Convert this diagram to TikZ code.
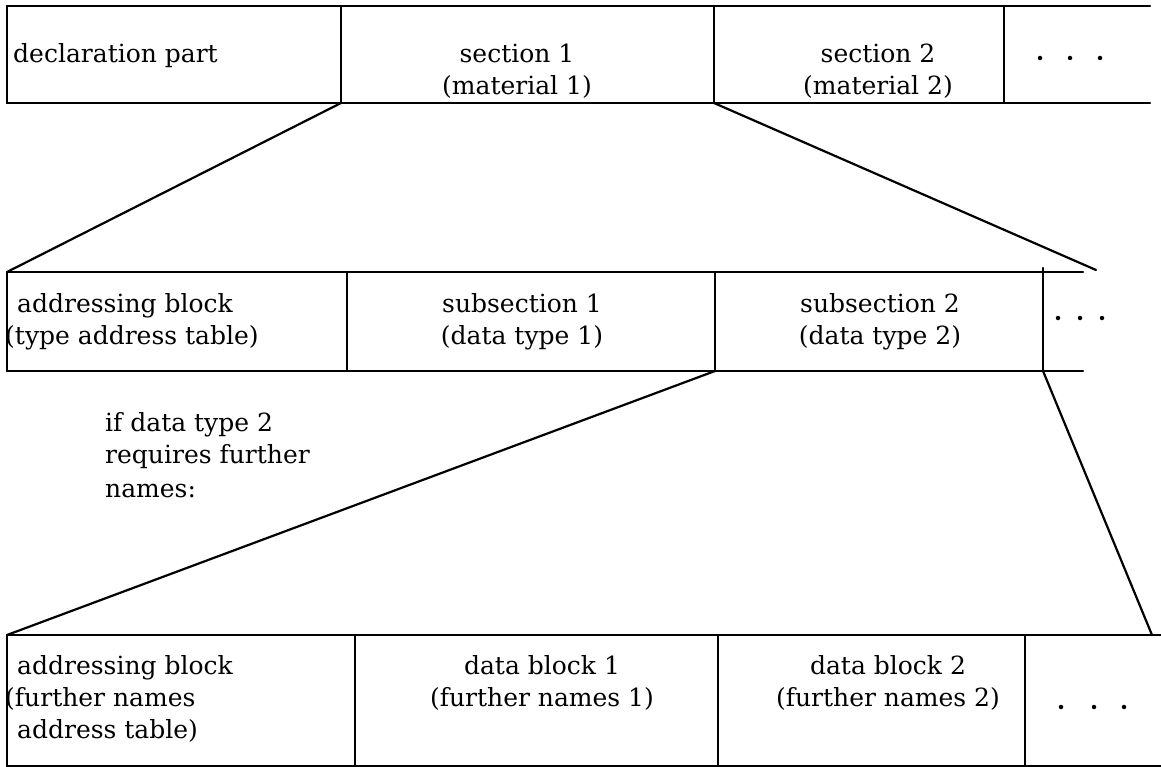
\documentclass[tikz,border=0pt]{standalone}
\usepackage{fontspec}
\setmainfont{DejaVu Serif}
\begin{document}
\begin{tikzpicture}[x=1pt,y=-1pt,
  rule/.style={line width=2.2pt, line cap=round},
  cell/.style={draw=none, rectangle, inner sep=0pt, outer sep=0pt},
  txt/.style={inner sep=0pt, font=\fontsize{25}{30}\selectfont},
  dotmark/.style={circle, fill, inner sep=0pt, minimum size=4.5pt}]
\useasboundingbox (0,0) rectangle (1161,767);

% ---------- top row ----------
\node[cell, minimum width=334pt, minimum height=97pt] (decl)  at (174,54.5) {};
\node[cell, minimum width=373pt, minimum height=97pt] (sec1)  at (527.5,54.5) {};
\node[cell, minimum width=290pt, minimum height=97pt] (sec2)  at (859,54.5) {};
\node[cell, minimum width=146pt, minimum height=97pt] (more1) at (1077,54.5) {};
\draw[rule] (more1.north east) -- (decl.north west) -- (decl.south west) -- (more1.south east);
\foreach \c in {sec1,sec2,more1} \draw[rule] (\c.north west) -- (\c.south west);

\node[txt, anchor=base west] (declT) at (13,63) {declaration part};
\node[txt, anchor=base] (s1a) at (517,63) {section 1};
\node[txt, anchor=base] (s1b) at (517,95) {(material 1)};
\node[txt, anchor=base] (s2a) at (878,63) {section 2};
\node[txt, anchor=base] (s2b) at (878,95) {(material 2)};
\node[dotmark] (t1) at (1040,58) {};
\node[dotmark] (t2) at (1070,58) {};
\node[dotmark] (t3) at (1100,58) {};

% ---------- middle row ----------
\node[cell, minimum width=340pt, minimum height=99pt] (adr1)  at (177,321.5) {};
\node[cell, minimum width=368pt, minimum height=99pt] (sub1)  at (531,321.5) {};
\node[cell, minimum width=328pt, minimum height=99pt] (sub2)  at (879,321.5) {};
\node[cell, minimum width=40pt,  minimum height=99pt] (more2) at (1063,321.5) {};
\draw[rule] (more2.north east) -- (adr1.north west) -- (adr1.south west) -- (more2.south east);
\foreach \c in {sub1,sub2} \draw[rule] (\c.north west) -- (\c.south west);
\draw[rule] ([yshift=4pt]more2.north west) -- (more2.south west);

\node[txt, anchor=base west] (a1a) at (17,312) {addressing block};
\node[txt, anchor=base west] (a1b) at (5,344) {(type address table)};
\node[txt, anchor=base] (u1a) at (522,312) {subsection 1};
\node[txt, anchor=base] (u1b) at (522,344) {(data type 1)};
\node[txt, anchor=base] (u2a) at (880,312) {subsection 2};
\node[txt, anchor=base] (u2b) at (880,344) {(data type 2)};
\node[dotmark] (m1) at (1058,318) {};
\node[dotmark] (m2) at (1080,318) {};
\node[dotmark] (m3) at (1102,318) {};

% ---------- annotation ----------
\node[txt, anchor=base west] (n1) at (105,431) {if data type 2};
\node[txt, anchor=base west] (n2) at (105,463) {requires further};
\node[txt, anchor=base west] (n3) at (105,497) {names:};

% ---------- bottom row ----------
\node[cell, minimum width=348pt, minimum height=131pt] (adr2)  at (181,700.5) {};
\node[cell, minimum width=363pt, minimum height=131pt] (db1)   at (536.5,700.5) {};
\node[cell, minimum width=307pt, minimum height=131pt] (db2)   at (871.5,700.5) {};
\node[cell, minimum width=136pt, minimum height=131pt] (more3) at (1093,700.5) {};
\draw[rule] (more3.north east) -- (adr2.north west) -- (adr2.south west) -- (more3.south east);
\foreach \c in {db1,db2,more3} \draw[rule] (\c.north west) -- (\c.south west);

\node[txt, anchor=base west] (a2a) at (17,674) {addressing block};
\node[txt, anchor=base west] (a2b) at (5,706) {(further names};
\node[txt, anchor=base west] (a2c) at (17,738) {address table)};
\node[txt, anchor=base] (b1a) at (542,674) {data block 1};
\node[txt, anchor=base] (b1b) at (542,706) {(further names 1)};
\node[txt, anchor=base] (b2a) at (888,674) {data block 2};
\node[txt, anchor=base] (b2b) at (888,706) {(further names 2)};
\node[dotmark] (e1) at (1061,707) {};
\node[dotmark] (e2) at (1094,707) {};
\node[dotmark] (e3) at (1124,707) {};

% ---------- expansion lines ----------
\coordinate (coneA) at (1096,270);
\coordinate (coneB) at (1152,635);
\draw[rule] (sec1.south west) -- (adr1.north west);
\draw[rule] (sec2.south west) -- (coneA);
\draw[rule] (sub2.south west) -- (adr2.north west);
\draw[rule] (more2.south west) -- (coneB);
\end{tikzpicture}
\end{document}
